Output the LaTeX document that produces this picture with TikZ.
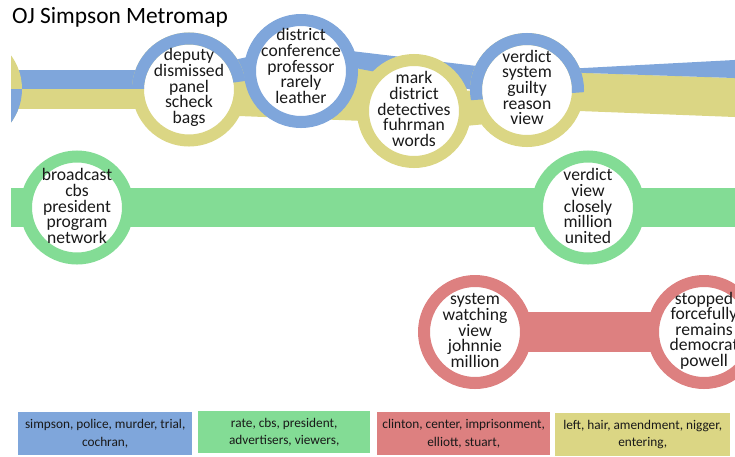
\documentclass[tikz,border=0pt]{standalone}
\usepackage{fontspec}
\setmainfont{Carlito}
\usetikzlibrary{calc}
\definecolor{mblue}{RGB}{127,166,219}
\definecolor{mgreen}{RGB}{131,220,149}
\definecolor{mred}{RGB}{221,128,128}
\definecolor{myellow}{RGB}{219,214,132}
\definecolor{ink}{RGB}{25,25,25}
\begin{document}
\begin{tikzpicture}[x=1pt,y=-1pt,
 station/.style={circle,draw=#1,line width=12pt,fill=white,minimum size=102pt,inner sep=0pt},
 ring/.style={draw=#1,line width=12pt},
 words/.style={align=center,font=\fontsize{17.6}{15.6}\selectfont,text=ink,inner sep=0pt},
 legend/.style={fill=#1,anchor=north west,align=center,inner sep=0pt,minimum height=43pt,font=\fontsize{13.3}{17.5}\selectfont,text=ink},
]
\useasboundingbox (0,0) rectangle (735,456);

% title
\node[anchor=base west,font=\fontsize{23.4}{27}\selectfont,text=black,inner sep=0pt] (title) at (12,23) {OJ Simpson Metromap};

% station positions
\coordinate (L) at (-35,89);
\coordinate (dep) at (189,89.5);
\coordinate (dis) at (301,71);
\coordinate (mark) at (414,111);
\coordinate (ver) at (527,90);
\coordinate (lTop) at (11,70);
\coordinate (lMid) at (11,89);
\coordinate (lBot) at (11,109);
\coordinate (eTop) at (740,59.7);
\coordinate (eMid) at (740,78.2);
\coordinate (eBot) at (740,117.2);
\coordinate (g1) at (77,207.5);
\coordinate (g2) at (588,207.5);
\coordinate (gL) at (11,207.5);
\coordinate (gR) at (740,207.5);
\coordinate (r1) at (475,332);
\coordinate (r2) at (704,332);

% yellow line
\fill[myellow] (lMid) -- ($(dep)+(0,-0.5)$) -- ($(dep)+(0,19.5)$) -- (lBot) -- cycle;
\fill[myellow] ($(dep)+(0,-10)$) -- ($(mark)+(0,-46)$) -- ($(mark)+(0,12)$) -- ($(dep)+(0,24.5)$) -- cycle;
\fill[myellow] ($(mark)+(0,-15)$) -- ($(ver)+(0,-5)$) -- ($(ver)+(0,30)$) -- ($(mark)+(0,20)$) -- cycle;
\fill[myellow] ($(ver)+(0,-19)$) -- (eMid) -- (eBot) -- ($(ver)+(0,19)$) -- cycle;

% blue line
\fill[mblue] (lTop) -- ($(dep)+(0,-19.5)$) -- ($(dep)+(0,-0.5)$) -- (lMid) -- cycle;
\fill[mblue] ($(dep)+(0,-19.5)$) -- ($(dis)+(0,-26)$) -- ($(dis)+(0,7)$) -- ($(dep)+(0,-1.5)$) -- cycle;
\fill[mblue] ($(dis)+(0,-26)$) -- ($(ver)+(0,-18)$) -- ($(ver)+(0,10)$) -- ($(dis)+(0,-13)$) -- cycle;
\fill[mblue] ($(ver)+(0,-19)$) -- (eTop) -- (eMid) -- cycle;

% green and red lines
\draw[mgreen,line width=39pt] (gL) -- (g1) -- (g2) -- (gR);
\draw[mred,line width=40pt] (r1) -- (r2);

% left partial station
\begin{scope}
 \clip (11,0) rectangle (120,200);
 \node[station=myellow] (sLeft) at (L) {};
 \begin{scope}
  \clip (11,89) rectangle (120,200);
  \draw[ring=mblue] (L) circle[radius=51];
 \end{scope}
\end{scope}

% stations
\node[station=myellow] (sDep) at (dep) {};
\begin{scope}
 \clip (120,89) -- (189,88.5) -- (260,79) -- (260,10) -- (120,10) -- cycle;
 \draw[ring=mblue] (dep) circle[radius=51];
\end{scope}
\node[station=mblue] (sDis) at (dis) {};
\node[station=myellow] (sMark) at (mark) {};
\node[station=myellow] (sVer) at (ver) {};
\begin{scope}
 \clip (460,101) -- (600,91) -- (600,10) -- (460,10) -- cycle;
 \draw[ring=mblue] (ver) circle[radius=51];
\end{scope}
\node[station=mgreen] (sBroad) at (g1) {};
\node[station=mgreen] (sView) at (g2) {};
\node[station=mred] (sSys) at (r1) {};
\node[station=mred] (sStop) at (r2) {};

% station words
\node[words] (tDep) at ($(dep)+(0,-2)$) {deputy\\dismissed\\panel\\scheck\\bags};
\node[words] (tDis) at ($(dis)+(0,-5)$) {district\\conference\\professor\\rarely\\leather};
\node[words] (tMark) at ($(mark)+(0,-2)$) {mark\\district\\detectives\\fuhrman\\words};
\node[words] (tVer) at ($(ver)+(0,-2.5)$) {verdict\\system\\guilty\\reason\\view};
\node[words] (tBroad) at ($(g1)+(0,-1.5)$) {broadcast\\cbs\\president\\program\\network};
\node[words] (tView) at ($(g2)+(0,-1.5)$) {verdict\\view\\closely\\million\\united};
\node[words] (tSys) at ($(r1)+(0,-1.5)$) {system\\watching\\view\\johnnie\\million};
\node[words] (tStop) at ($(r2)+(0,-1.5)$) {stopped\\forcefully\\remains\\democrat\\powell};

% legend
\node[legend=mblue,minimum width=174pt] (lgBlue) at (18,412) {simpson, police, murder, trial,\\cochran,};
\node[legend=mgreen,minimum width=172pt,minimum height=42pt] (lgGreen) at (198,411) {rate, cbs, president,\\advertisers, viewers,};
\node[legend=mred,minimum width=173pt] (lgRed) at (377,412) {clinton, center, imprisonment,\\elliott, stuart,};
\node[legend=myellow,minimum width=175pt] (lgYellow) at (555,413) {left, hair, amendment, nigger,\\entering,};
\end{tikzpicture}
\end{document}
